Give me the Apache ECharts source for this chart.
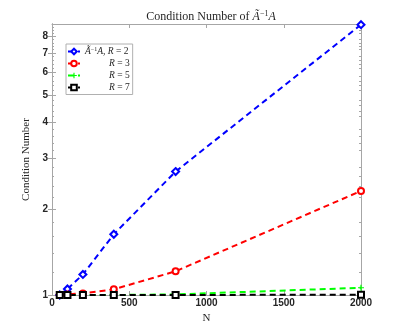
<!DOCTYPE html>
<html>
<head>
<meta charset="utf-8">
<script src="https://cdn.jsdelivr.net/npm/echarts@6/dist/echarts.min.js"></script>
<style>
  html, body { margin: 0; padding: 0; background: #fff; }
  #chart { width: 399px; height: 332px; }
</style>
</head>
<body>
<div id="chart"></div>
<script>
// matrix sizes N
const nValues = [50, 100, 200, 400, 800, 2000];
// condition numbers
const condR2 = [1.0, 1.05, 1.18, 1.63, 2.70, 8.80];
const condR3 = [1.0, 1.005, 1.013, 1.047, 1.21, 2.31];
const condR5 = [1.0, 1.0, 1.0, 1.0, 1.005, 1.06];
const condR7 = [1.0, 1.0, 1.0, 1.0, 1.0, 1.003];
// tick labels
const yMajorTicks = [1, 2, 3, 4, 5, 6, 7, 8];
const yMinorTicks = [1.2, 1.4, 1.6, 1.8, 2.2, 2.4, 2.6, 2.8, 3.2, 3.4, 3.6, 3.8,
  4.2, 4.4, 4.6, 4.8, 5.2, 5.4, 5.6, 5.8, 6.2, 6.4, 6.6, 6.8, 7.2, 7.4, 7.6, 7.8, 8.2, 8.4, 8.6, 8.8];
const xTicks = [0, 500, 1000, 1500, 2000];

const pairs = ys => nValues.map((n, i) => [n, ys[i]]);
const plusPath = 'path://M4,0 L6,0 L6,4 L10,4 L10,6 L6,6 L6,10 L4,10 L4,6 L0,6 L0,4 L4,4 Z';

const axisGray = '#a6a6a6';
const labelStyle = { color: '#262626', fontFamily: 'Liberation Sans', fontWeight: 'bold', fontSize: 10 };
const mathRich = {
  i: { fontFamily: 'Liberation Serif', fontStyle: 'italic', fontSize: 9.5, color: '#262626' },
  t: { fontFamily: 'Liberation Serif', fontSize: 9.5, color: '#262626' },
  s: { fontFamily: 'Liberation Serif', fontSize: 6, color: '#262626', verticalAlign: 'bottom', padding: [0, 0, 5, 0] },
  g: { width: 24 }
};

function yAxisDef(pos, ticks, len, showLabel) {
  return {
    type: 'log', logBase: 10, min: 1, max: 8.85, position: pos,
    axisLine: { show: true, lineStyle: { color: axisGray } },
    axisTick: { show: true, inside: true, length: len, customValues: ticks, lineStyle: { color: axisGray } },
    axisLabel: Object.assign({ show: showLabel, customValues: yMajorTicks, margin: 4 }, labelStyle),
    splitLine: { show: false },
    minorTick: { show: false }
  };
}

const chart = echarts.init(document.getElementById('chart'));
chart.setOption({
  animation: false,
  title: {
    text: '{n|Condition Number of }{i|Ã}{s|−1}{i|A}',
    left: 206, top: 5, textAlign: 'center',
    textStyle: {
      fontWeight: 'normal',
      rich: {
        n: { fontFamily: 'Liberation Serif', fontWeight: 'normal', fontSize: 12, color: '#262626' },
        i: { fontFamily: 'Liberation Serif', fontWeight: 'normal', fontStyle: 'italic', fontSize: 12, color: '#262626' },
        s: { fontFamily: 'Liberation Serif', fontWeight: 'normal', fontSize: 8, color: '#262626', verticalAlign: 'bottom', padding: [0, 0, 6, 0] }
      }
    }
  },
  grid: { left: 52, right: 38, top: 24, bottom: 37, containLabel: false },
  legend: {
    orient: 'vertical', left: 66, top: 44,
    itemWidth: 12, itemHeight: 7, itemGap: 2,
    padding: [2, 3, 2, 1],
    borderColor: '#b0b0b0', borderWidth: 1, backgroundColor: '#fff',
    textStyle: { rich: mathRich, fontSize: 9.5 },
    formatter: name => name,
    data: ['{i|Ã}{s|−1}{i|A}{t|, }{i|R}{t| = 2}', '{g|}{i|R}{t| = 3}', '{g|}{i|R}{t| = 5}', '{g|}{i|R}{t| = 7}']
  },
  xAxis: [
    {
      type: 'value', min: 0, max: 2000, interval: 500, position: 'bottom',
      name: 'N', nameLocation: 'middle', nameGap: 15,
      nameTextStyle: { fontFamily: 'Liberation Serif', fontSize: 11, color: '#262626' },
      axisLine: { show: true, onZero: false, lineStyle: { color: axisGray } },
      axisTick: { show: true, inside: true, length: 4, lineStyle: { color: axisGray } },
      axisLabel: Object.assign({ margin: 3, customValues: xTicks, formatter: v => String(v) }, labelStyle),
      splitLine: { show: false }
    },
    {
      type: 'value', min: 0, max: 2000, interval: 500, position: 'top',
      axisLine: { show: true, onZero: false, lineStyle: { color: axisGray } },
      axisTick: { show: true, inside: true, length: 4, lineStyle: { color: axisGray } },
      axisLabel: { show: false },
      splitLine: { show: false }
    }
  ],
  yAxis: [
    Object.assign(yAxisDef('left', yMajorTicks, 4, true), {
      name: 'Condition Number', nameLocation: 'middle', nameGap: 14,
      nameTextStyle: { fontFamily: 'Liberation Serif', fontSize: 11, color: '#262626' }
    }),
    yAxisDef('right', yMajorTicks, 4, false),
    yAxisDef('left', yMinorTicks, 2, false),
    yAxisDef('right', yMinorTicks, 2, false)
  ],
  series: [
    {
      name: '{i|Ã}{s|−1}{i|A}{t|, }{i|R}{t| = 2}', type: 'line', data: pairs(condR2),
      symbol: 'emptyDiamond', symbolSize: 7, color: '#0000ff',
      lineStyle: { width: 2, type: [6, 4] }, itemStyle: { borderWidth: 1.5 }
    },
    {
      name: '{g|}{i|R}{t| = 3}', type: 'line', data: pairs(condR3),
      symbol: 'emptyCircle', symbolSize: 6, color: '#ff0000',
      lineStyle: { width: 2, type: [6, 4] }, itemStyle: { borderWidth: 1.5 }
    },
    {
      name: '{g|}{i|R}{t| = 5}', type: 'line', data: pairs(condR5),
      symbol: plusPath, symbolSize: 6, color: '#00ff00',
      lineStyle: { width: 2, type: [6, 4] }
    },
    {
      name: '{g|}{i|R}{t| = 7}', type: 'line', data: pairs(condR7),
      symbol: 'emptyRect', symbolSize: 6, color: '#000000',
      lineStyle: { width: 2, type: [6, 4] }, itemStyle: { borderWidth: 1.5 }
    }
  ]
});
</script>
</body>
</html>
